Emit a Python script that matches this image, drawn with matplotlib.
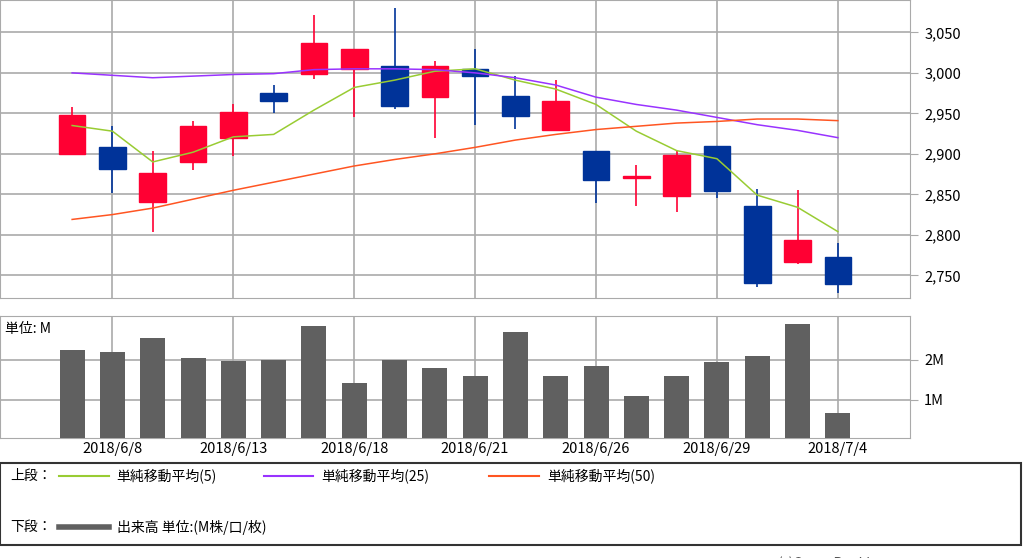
import numpy as np
import matplotlib
matplotlib.use('Agg')
import matplotlib.pyplot as plt
from matplotlib.patches import Rectangle
from matplotlib.lines import Line2D

plt.rcParams['font.family'] = ['Noto Sans CJK JP', 'DejaVu Sans']

dates = ['6/7', '6/8', '6/11', '6/12', '6/13', '6/14', '6/15', '6/18', '6/19', '6/20',
         '6/21', '6/22', '6/25', '6/26', '6/27', '6/28', '6/29', '7/2', '7/3', '7/4']
opens  = [2900, 2908, 2840, 2890, 2919, 2975, 2999, 3005, 3009, 2970,
          3005, 2971, 2930, 2903, 2870, 2848, 2910, 2835, 2767, 2772]
closes = [2948, 2881, 2876, 2934, 2952, 2965, 3037, 3030, 2959, 3009,
          2996, 2947, 2965, 2868, 2873, 2899, 2854, 2741, 2793, 2739]
highs  = [2958, 2935, 2904, 2940, 2962, 2985, 3071, 3030, 3080, 3015,
          3030, 2996, 2991, 2903, 2886, 2904, 2910, 2857, 2855, 2790]
lows   = [2900, 2852, 2803, 2880, 2897, 2951, 2993, 2946, 2956, 2920,
          2936, 2931, 2928, 2839, 2835, 2828, 2845, 2735, 2764, 2728]
ma5  = [2935, 2928, 2890, 2902, 2921, 2924, 2954, 2982, 2991, 3002,
        3005, 2991, 2980, 2961, 2928, 2904, 2894, 2849, 2834, 2804]
ma25 = [3000, 2997, 2994, 2996, 2998, 2999, 3004, 3005, 3005, 3004,
        3000, 2994, 2985, 2970, 2961, 2954, 2945, 2936, 2929, 2920]
ma50 = [2819, 2825, 2833, 2844, 2855, 2865, 2875, 2885, 2893, 2900,
        2908, 2917, 2924, 2930, 2934, 2938, 2940, 2943, 2943, 2941]
volume = [2.25, 2.2, 2.55, 2.05, 1.98, 2.0, 2.85, 1.42, 2.0, 1.8,
          1.6, 2.7, 1.6, 1.85, 1.1, 1.6, 1.95, 2.1, 2.9, 0.68]
label_idx = [1, 4, 7, 10, 13, 16, 19]
label_txt = ['2018/6/8', '2018/6/13', '2018/6/18', '2018/6/21', '2018/6/26', '2018/6/29', '2018/7/4']

UP, DOWN = '#ff0033', '#003399'
C5, C25, C50 = '#99cc33', '#9933ff', '#ff5522'
GRID = '#aaaaaa'

fig = plt.figure(figsize=(10.24, 5.58), dpi=100)
ax = fig.add_axes([0.0, 0.466, 0.889, 0.534])
axv = fig.add_axes([0.0, 0.215, 0.889, 0.219])
x = np.arange(len(dates))

for i in x:
    c = UP if closes[i] >= opens[i] else DOWN
    ax.vlines(i, lows[i], highs[i], color=c, lw=1.2, zorder=3)
    lo, hi = min(opens[i], closes[i]), max(opens[i], closes[i])
    ax.add_patch(Rectangle((i - 0.33, lo), 0.66, max(hi - lo, 2), color=c, zorder=4))
ax.plot(x, ma5, color=C5, lw=1.1, zorder=5)
ax.plot(x, ma25, color=C25, lw=1.1, zorder=5)
ax.plot(x, ma50, color=C50, lw=1.1, zorder=5)

for a in (ax, axv):
    a.set_xlim(-1.79, 20.8)
    a.set_xticks(label_idx)
    a.grid(True, color=GRID, lw=1.2)
    a.set_axisbelow(True)
    a.yaxis.tick_right()
    a.tick_params(axis='y', length=6, color=GRID, labelsize=10.5, pad=4)
    a.tick_params(axis='x', length=0)
    for s in a.spines.values():
        s.set_color(GRID)

ax.set_ylim(2722, 3090)
ax.set_yticks([2750, 2800, 2850, 2900, 2950, 3000, 3050])
ax.set_yticklabels([f'{v:,}' for v in ax.get_yticks()])
ax.set_xticklabels([])

axv.bar(x, volume, width=0.62, color='#606060', zorder=3)
axv.set_ylim(0.05, 3.1)
axv.set_yticks([1, 2])
axv.set_yticklabels(['1M', '2M'])
axv.set_xticklabels(label_txt, fontsize=10.5)
axv.tick_params(axis='x', pad=3)
axv.text(0.005, 0.95, '単位: M', transform=axv.transAxes, fontsize=10, va='top')

# legend box
fig.patches.append(Rectangle((0.0, 1 - 545 / 558), 0.997, 82 / 558, transform=fig.transFigure,
                             fill=False, ec='#333333', lw=1.5))
fy1, fy2 = 1 - 476 / 558, 1 - 527 / 558
fig.text(0.01, fy1, '上段：', fontsize=10, va='center')
for x0, col, lab in [(0.058, C5, '単純移動平均(5)'), (0.258, C25, '単純移動平均(25)'), (0.478, C50, '単純移動平均(50)')]:
    fig.lines.append(Line2D([x0, x0 + 0.048], [fy1, fy1], transform=fig.transFigure, color=col, lw=1.5))
    fig.text(x0 + 0.056, fy1, lab, fontsize=10, va='center')
fig.text(0.01, fy2, '下段：', fontsize=10, va='center')
fig.lines.append(Line2D([0.058, 0.106], [fy2, fy2], transform=fig.transFigure, color='#606060', lw=4))
fig.text(0.114, fy2, '出来高 単位:(M株/口/枚)', fontsize=10, va='center')
fig.text(0.76, -0.01, '(c)QuoteRanking', fontsize=10, color='#555555', va='center')

fig.savefig('out.png', dpi=100, facecolor='white')
